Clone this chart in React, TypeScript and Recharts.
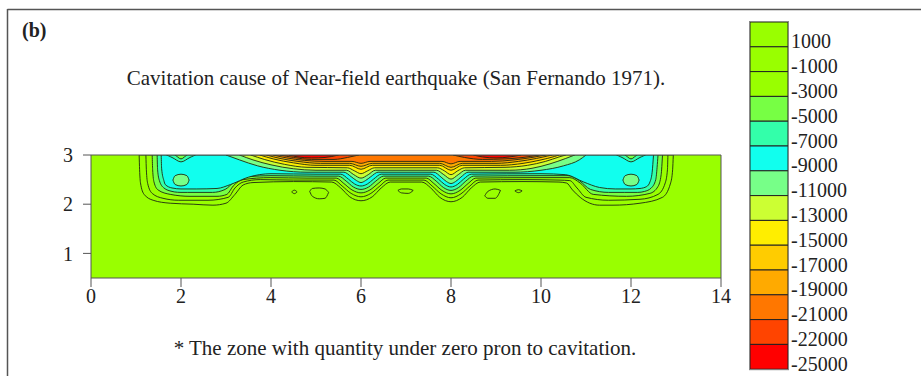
import React from 'react';
import { ComposedChart, Area, XAxis, YAxis, Customized } from 'recharts';

// [x, lower y, upper y] for each contour band
type Pt = [number, number, number];

const X_TICKS = [0, 2, 4, 6, 8, 10, 12, 14];
const X_TOP_TICKS = [2, 4, 6, 8, 10, 12, 14];
const Y_TICKS = [1, 2, 3];

const LEVELS = ['1000', '-1000', '-3000', '-5000', '-7000', '-9000', '-11000', '-13000', '-15000', '-17000', '-19000', '-21000', '-22000', '-25000'];
const LEVEL_COLORS = ['#99ff00', '#99ff00', '#99ff00', '#77ff44', '#33ffaa', '#11ffee', '#77ff88', '#ccff33', '#ffee00', '#ffcc00', '#ffaa00', '#ff7700', '#ff4400', '#ff0000'];

const FIELD: Pt[] = [[0, 0.5, 3], [14, 0.5, 3]];

const BAND_M1000: Pt[] = [[1.07, 3, 3], [1.08, 2.7, 3], [1.1, 2.43, 3], [1.18, 2.2, 3], [1.38, 2.08, 3], [1.76, 2.02, 3], [2.27, 2.0, 3], [2.71, 1.98, 3], [3.0, 2.02, 3], [3.2, 2.2, 3], [3.38, 2.39, 3], [3.6, 2.44, 3], [4.5, 2.46, 3], [5.35, 2.45, 3], [5.55, 2.33, 3], [5.75, 2.15, 3], [6.0, 2.07, 3], [6.25, 2.15, 3], [6.45, 2.33, 3], [6.65, 2.45, 3], [7.35, 2.45, 3], [7.55, 2.33, 3], [7.75, 2.14, 3], [8.0, 2.05, 3], [8.25, 2.14, 3], [8.45, 2.33, 3], [8.65, 2.45, 3], [9.6, 2.46, 3], [10.4, 2.45, 3], [10.57, 2.43, 3], [10.7, 2.29, 3], [10.87, 2.14, 3], [11.3, 1.98, 3], [11.6, 1.98, 3], [12.2, 2.02, 3], [12.7, 2.14, 3], [12.88, 2.43, 3], [12.925, 2.7, 3], [12.94, 3, 3]];

const BAND_M3000: Pt[] = [[1.22, 3, 3], [1.23, 2.7, 3], [1.26, 2.42, 3], [1.36, 2.22, 3], [1.6, 2.12, 3], [1.95, 2.08, 3], [2.6, 2.08, 3], [3.05, 2.14, 3], [3.2, 2.33, 3], [3.38, 2.45, 3], [3.76, 2.5, 3], [4.5, 2.49, 3], [5.4, 2.49, 3], [5.58, 2.37, 3], [5.78, 2.22, 3], [6.0, 2.15, 3], [6.22, 2.22, 3], [6.42, 2.37, 3], [6.6, 2.49, 3], [7.4, 2.49, 3], [7.58, 2.37, 3], [7.78, 2.21, 3], [8.0, 2.13, 3], [8.22, 2.21, 3], [8.42, 2.37, 3], [8.6, 2.49, 3], [9.6, 2.5, 3], [10.4, 2.49, 3], [10.64, 2.48, 3], [10.8, 2.33, 3], [11.0, 2.14, 3], [11.5, 2.08, 3], [12.2, 2.1, 3], [12.6, 2.2, 3], [12.76, 2.43, 3], [12.81, 2.7, 3], [12.82, 3, 3]];

const BAND_M5000: Pt[] = [[1.36, 3, 3], [1.37, 2.7, 3], [1.4, 2.45, 3], [1.49, 2.29, 3], [1.76, 2.2, 3], [2.2, 2.16, 3], [2.8, 2.16, 3], [3.02, 2.2, 3], [3.16, 2.37, 3], [3.38, 2.5, 3], [3.98, 2.54, 3], [4.8, 2.53, 3], [5.45, 2.53, 3], [5.62, 2.42, 3], [5.8, 2.29, 3], [6.0, 2.23, 3], [6.2, 2.29, 3], [6.38, 2.42, 3], [6.55, 2.53, 3], [7.45, 2.53, 3], [7.62, 2.42, 3], [7.8, 2.28, 3], [8.0, 2.21, 3], [8.2, 2.28, 3], [8.38, 2.42, 3], [8.55, 2.53, 3], [9.8, 2.54, 3], [10.64, 2.54, 3], [10.87, 2.43, 3], [11.16, 2.2, 3], [11.9, 2.16, 3], [12.42, 2.22, 3], [12.6, 2.36, 3], [12.67, 2.6, 3], [12.7, 3, 3]];

const BAND_M7000: Pt[] = [[1.47, 3, 3], [1.48, 2.7, 3], [1.52, 2.48, 3], [1.62, 2.33, 3], [1.8, 2.26, 3], [1.85, 2.25, 3], [2.0, 2.24, 2.92], [2.15, 2.24, 3], [2.7, 2.24, 3], [2.98, 2.3, 3], [3.18, 2.45, 3], [3.5, 2.56, 3], [4.0, 2.58, 3], [5.0, 2.57, 3], [5.5, 2.57, 3], [5.67, 2.47, 3], [5.83, 2.35, 3], [6.0, 2.3, 3], [6.17, 2.35, 3], [6.33, 2.47, 3], [6.5, 2.57, 3], [7.5, 2.57, 3], [7.67, 2.47, 3], [7.83, 2.34, 3], [8.0, 2.28, 3], [8.17, 2.34, 3], [8.33, 2.47, 3], [8.5, 2.57, 3], [10.0, 2.58, 3], [10.6, 2.58, 3], [10.85, 2.48, 3], [11.1, 2.3, 3], [11.5, 2.24, 3], [11.85, 2.24, 3], [12.0, 2.24, 2.92], [12.15, 2.24, 3], [12.3, 2.26, 3], [12.45, 2.33, 3], [12.55, 2.5, 3], [12.58, 2.75, 3], [12.6, 3, 3]];

const BAND_M9000: Pt[] = [[1.56, 3, 3], [1.57, 2.72, 3], [1.62, 2.48, 3], [1.65, 2.4, 3], [1.8, 2.33, 2.95], [2.0, 2.31, 2.86], [2.2, 2.31, 2.95], [2.35, 2.31, 3], [2.8, 2.32, 3], [3.1, 2.4, 3], [3.5, 2.55, 3], [4.0, 2.62, 3], [5.0, 2.61, 3], [5.55, 2.61, 3], [5.72, 2.51, 3], [5.86, 2.41, 3], [6.0, 2.37, 3], [6.14, 2.41, 3], [6.28, 2.51, 3], [6.45, 2.61, 3], [7.55, 2.61, 3], [7.72, 2.51, 3], [7.86, 2.4, 3], [8.0, 2.35, 3], [8.14, 2.4, 3], [8.28, 2.51, 3], [8.45, 2.61, 3], [10.0, 2.62, 3], [10.55, 2.6, 3], [10.95, 2.45, 3], [11.3, 2.34, 3], [11.65, 2.31, 3], [11.8, 2.31, 2.95], [12.0, 2.31, 2.86], [12.2, 2.32, 2.95], [12.35, 2.36, 3], [12.42, 2.45, 3], [12.47, 2.65, 3], [12.5, 3, 3]];

const BAND_M11000: Pt[] = [[3.0, 3, 3], [3.3, 2.9, 3], [3.7, 2.78, 3], [4.2, 2.69, 3], [4.8, 2.65, 3], [5.62, 2.65, 3], [5.78, 2.56, 3], [5.9, 2.48, 3], [6.0, 2.44, 3], [6.1, 2.48, 3], [6.22, 2.56, 3], [6.38, 2.65, 3], [7.62, 2.65, 3], [7.78, 2.55, 3], [7.9, 2.46, 3], [8.0, 2.42, 3], [8.1, 2.46, 3], [8.22, 2.55, 3], [8.38, 2.65, 3], [9.4, 2.65, 3], [10.0, 2.69, 3], [10.5, 2.78, 3], [10.85, 2.9, 3], [11.0, 3, 3]];
const ISLAND_LEFT: Pt[] = [[1.82, 2.49, 2.49], [1.87, 2.4, 2.58], [2.0, 2.37, 2.61], [2.13, 2.4, 2.58], [2.18, 2.49, 2.49]];
const ISLAND_RIGHT: Pt[] = [[11.82, 2.49, 2.49], [11.87, 2.4, 2.58], [12.0, 2.37, 2.61], [12.13, 2.4, 2.58], [12.18, 2.49, 2.49]];

const BAND_M13000: Pt[] = [[3.3, 3, 3], [3.6, 2.9, 3], [4.0, 2.8, 3], [4.5, 2.72, 3], [5.0, 2.69, 3], [5.68, 2.69, 3], [5.84, 2.6, 3], [6.0, 2.53, 3], [6.16, 2.6, 3], [6.32, 2.69, 3], [7.68, 2.69, 3], [7.84, 2.6, 3], [8.0, 2.51, 3], [8.16, 2.6, 3], [8.32, 2.69, 3], [9.3, 2.69, 3], [9.8, 2.73, 3], [10.2, 2.82, 3], [10.55, 2.93, 3], [10.75, 3, 3]];
const BAND_M15000: Pt[] = [[3.55, 3, 3], [3.85, 2.91, 3], [4.3, 2.81, 3], [4.8, 2.75, 3], [5.7, 2.74, 3], [5.85, 2.68, 3], [6.0, 2.62, 3], [6.15, 2.68, 3], [6.3, 2.74, 3], [7.7, 2.74, 3], [7.85, 2.68, 3], [8.0, 2.6, 3], [8.15, 2.68, 3], [8.3, 2.74, 3], [9.2, 2.75, 3], [9.7, 2.79, 3], [10.1, 2.87, 3], [10.4, 2.96, 3], [10.55, 3, 3]];
const BAND_M17000: Pt[] = [[3.75, 3, 3], [4.05, 2.92, 3], [4.5, 2.84, 3], [5.0, 2.79, 3], [5.75, 2.79, 3], [6.0, 2.71, 3], [6.25, 2.79, 3], [7.75, 2.79, 3], [8.0, 2.69, 3], [8.25, 2.79, 3], [9.1, 2.79, 3], [9.6, 2.83, 3], [10.0, 2.9, 3], [10.3, 2.97, 3], [10.4, 3, 3]];
const BAND_M19000: Pt[] = [[3.9, 3, 3], [4.2, 2.93, 3], [4.6, 2.87, 3], [5.1, 2.83, 3], [5.75, 2.83, 3], [6.0, 2.77, 3], [6.25, 2.83, 3], [7.75, 2.83, 3], [8.0, 2.75, 3], [8.25, 2.83, 3], [9.0, 2.83, 3], [9.5, 2.87, 3], [9.9, 2.93, 3], [10.15, 2.98, 3], [10.25, 3, 3]];
const BAND_M21000: Pt[] = [[4.05, 3, 3], [4.35, 2.94, 3], [4.75, 2.89, 3], [5.2, 2.87, 3], [5.8, 2.87, 3], [6.0, 2.83, 3], [6.2, 2.87, 3], [7.8, 2.87, 3], [8.0, 2.82, 3], [8.2, 2.87, 3], [8.9, 2.87, 3], [9.4, 2.9, 3], [9.8, 2.95, 3], [10.1, 3, 3]];
const BAND_M22000_A: Pt[] = [[4.2, 3, 3], [4.5, 2.95, 3], [4.9, 2.91, 3], [5.4, 2.91, 3], [5.7, 2.95, 3], [5.95, 3, 3]];
const BAND_M22000_B: Pt[] = [[8.05, 3, 3], [8.3, 2.95, 3], [8.7, 2.91, 3], [9.2, 2.92, 3], [9.6, 2.95, 3], [9.95, 3, 3]];
const BAND_M25000_A: Pt[] = [[4.4, 3, 3], [4.6, 2.96, 3], [4.9, 2.94, 3], [5.2, 2.95, 3], [5.5, 3, 3]];
const BAND_M25000_B: Pt[] = [[8.5, 3, 3], [8.7, 2.96, 3], [9.0, 2.94, 3], [9.3, 2.96, 3], [9.55, 3, 3]];

// small closed contours below the main band
const LOOP_A: Pt[] = [[4.46, 2.25, 2.25], [4.52, 2.215, 2.285], [4.58, 2.25, 2.25]];
const LOOP_B: Pt[] = [[4.86, 2.26, 2.26], [4.92, 2.16, 2.32], [5.07, 2.11, 2.33], [5.2, 2.12, 2.31], [5.28, 2.24, 2.24]];
const LOOP_C: Pt[] = [[6.82, 2.28, 2.28], [6.9, 2.23, 2.31], [7.05, 2.22, 2.31], [7.16, 2.28, 2.28]];
const LOOP_D: Pt[] = [[8.75, 2.17, 2.17], [8.82, 2.12, 2.26], [8.98, 2.12, 2.31], [9.1, 2.28, 2.28]];
const LOOP_E: Pt[] = [[9.42, 2.27, 2.27], [9.5, 2.235, 2.295], [9.58, 2.27, 2.27]];

const SERIES: { pts: Pt[]; color: string; line: boolean }[] = [
	{ pts: FIELD, color: LEVEL_COLORS[0], line: false },
	{ pts: BAND_M1000, color: LEVEL_COLORS[1], line: true },
	{ pts: LOOP_A, color: LEVEL_COLORS[0], line: true },
	{ pts: LOOP_B, color: LEVEL_COLORS[0], line: true },
	{ pts: LOOP_C, color: LEVEL_COLORS[0], line: true },
	{ pts: LOOP_D, color: LEVEL_COLORS[0], line: true },
	{ pts: LOOP_E, color: LEVEL_COLORS[0], line: true },
	{ pts: BAND_M3000, color: LEVEL_COLORS[2], line: true },
	{ pts: BAND_M5000, color: LEVEL_COLORS[3], line: true },
	{ pts: BAND_M7000, color: LEVEL_COLORS[4], line: true },
	{ pts: BAND_M9000, color: LEVEL_COLORS[5], line: true },
	{ pts: BAND_M11000, color: LEVEL_COLORS[6], line: true },
	{ pts: ISLAND_LEFT, color: LEVEL_COLORS[6], line: true },
	{ pts: ISLAND_RIGHT, color: LEVEL_COLORS[6], line: true },
	{ pts: BAND_M13000, color: LEVEL_COLORS[7], line: true },
	{ pts: BAND_M15000, color: LEVEL_COLORS[8], line: true },
	{ pts: BAND_M17000, color: LEVEL_COLORS[9], line: true },
	{ pts: BAND_M19000, color: LEVEL_COLORS[10], line: true },
	{ pts: BAND_M21000, color: LEVEL_COLORS[11], line: true },
	{ pts: BAND_M22000_A, color: LEVEL_COLORS[12], line: true },
	{ pts: BAND_M22000_B, color: LEVEL_COLORS[12], line: true },
	{ pts: BAND_M25000_A, color: LEVEL_COLORS[13], line: true },
	{ pts: BAND_M25000_B, color: LEVEL_COLORS[13], line: true },
];

const toRows = (pts: Pt[]) => pts.map(([x, lo, hi]) => ({ x, v: [lo, hi] }));

const FONT = "'Liberation Serif', 'Times New Roman', serif";
const AXIS = '#555';
const INK = '#222';

const Decor = () => {
	const top = 22;
	const h = 24.8;
	return (
		<g fontFamily={FONT} fill={INK}>
			<line x1={7.5} y1={9.5} x2={921} y2={9.5} stroke="#555" strokeWidth={1.5} />
			<line x1={7.5} y1={9} x2={7.5} y2={376} stroke="#555" strokeWidth={1.5} />
			<text x={22} y={37} fontSize={20} fontWeight="bold">(b)</text>
			<text x={396} y={85} fontSize={21} textAnchor="middle">
				Cavitation cause of Near-field earthquake (San Fernando 1971).
			</text>
			<text x={405} y={355} fontSize={21} textAnchor="middle">
				* The zone with quantity under zero pron to cavitation.
			</text>
			{LEVELS.map((lab, i) => (
				<g key={lab}>
					<rect x={750} y={top + i * h} width={38} height={h} fill={LEVEL_COLORS[i]} stroke="#222" strokeWidth={1} />
					<text x={791} y={top + (i + 1) * h + 1.5} fontSize={20}>{lab}</text>
				</g>
			))}
			<rect x={749.5} y={top - 0.5} width={39} height={h * 14 + 1} fill="none" stroke="#888" strokeWidth={1} />
		</g>
	);
};

export default function App() {
	const tick = { fill: INK, fontSize: 20, fontFamily: FONT };
	return (
		<div style={{ position: 'absolute', left: 0, top: 0, background: '#fff' }}>
			<ComposedChart width={921} height={376} margin={{ top: 145, right: 190, bottom: 58, left: 31 }}>
				<XAxis dataKey="x" type="number" domain={[0, 14]} ticks={X_TICKS} allowDataOverflow
					tick={tick} tickSize={9} tickMargin={2} stroke={AXIS} height={40} interval={0} />
				<XAxis xAxisId="top" orientation="top" dataKey="x" type="number" domain={[0, 14]} ticks={X_TOP_TICKS}
					tickFormatter={() => ''} tickSize={8} stroke={AXIS} height={10} interval={0} />
				<YAxis type="number" domain={[0.5, 3]} ticks={Y_TICKS} allowDataOverflow
					tick={tick} tickSize={8} tickMargin={10} stroke={AXIS} width={60} interval={0} />
				<YAxis yAxisId="right" orientation="right" type="number" domain={[0.5, 3]} ticks={[2, 3]}
					tickFormatter={() => ''} tickSize={8} stroke={AXIS} width={10} interval={0} />
				{SERIES.map((s, i) => (
					<Area
						key={`band-${i}`}
						data={toRows(s.pts)}
						dataKey="v"
						type="monotone"
						fill={s.color}
						fillOpacity={1}
						stroke={s.line ? '#1e2a10' : 'none'}
						strokeWidth={0.9}
						dot={false}
						activeDot={false}
						isAnimationActive={false}
					/>
				))}
				<Customized component={Decor} />
			</ComposedChart>
		</div>
	);
}
